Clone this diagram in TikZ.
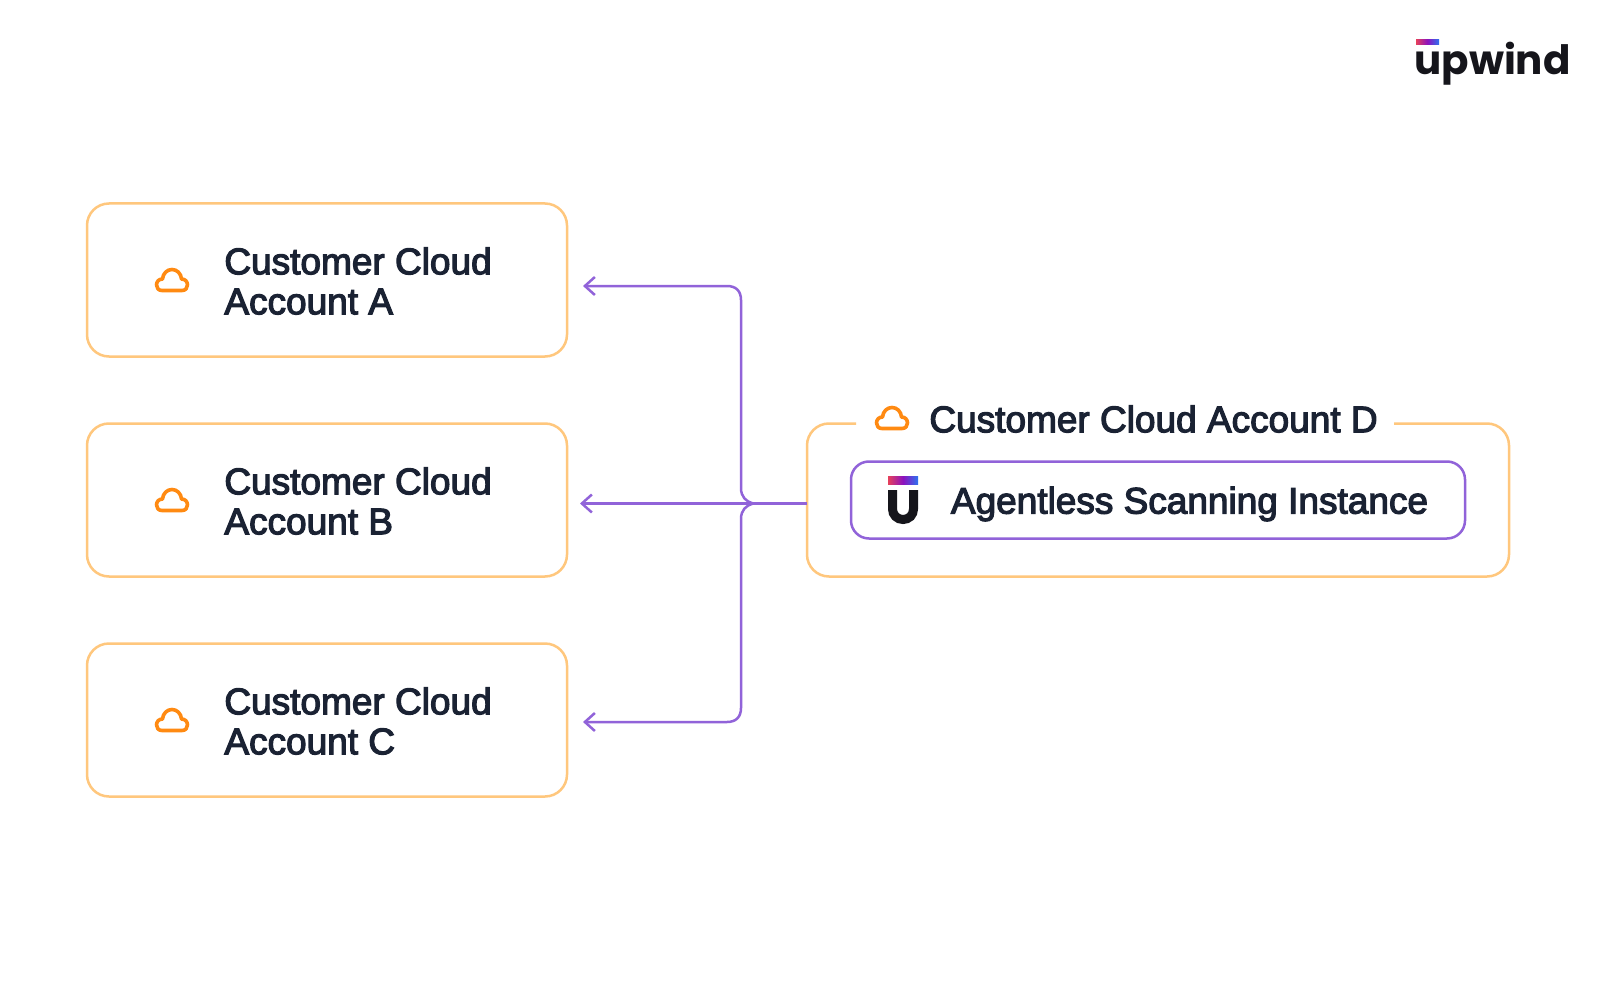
\documentclass[tikz,border=0pt]{standalone}
\usepackage{fontspec}
\usetikzlibrary{arrows.meta,calc}
\setmainfont[FakeBold=3.2]{Liberation Sans}
\newfontfamily\logofont{Poppins}
\definecolor{boxorange}{HTML}{FFC77D}
\definecolor{iconorange}{HTML}{FF8A12}
\definecolor{linkpurple}{HTML}{9163D9}
\definecolor{ink}{HTML}{1A2233}
\definecolor{logoink}{HTML}{15151B}
\definecolor{gradred}{HTML}{E6405A}
\definecolor{gradmid}{HTML}{8C12BE}
\definecolor{gradblue}{HTML}{2E72F0}
\tikzset{
  x=0.5pt,y=-0.5pt,
  acctbox/.style={draw=boxorange,line width=1.25pt,rounded corners=11pt,minimum width=240pt,minimum height=76.5pt,inner sep=0pt},
  acctlabel/.style={anchor=west,inner sep=0pt,align=left,text=ink,font=\fontsize{18.5}{20}\selectfont},
  onelabel/.style={anchor=west,inner sep=0pt,text=ink,font=\fontsize{18.5}{20}\selectfont},
  link/.style={draw=linkpurple,line width=1.25pt},
  tipped/.style={link,-{Straight Barb[length=5pt,width=9pt,line width=1.25pt]}},
  cloudicon/.pic={
    \draw[iconorange,line width=1.8pt,line join=round]
      (-10,10.5) -- (10,10.5)
      .. controls (13.5,10.5) and (15.5,8) .. (15.5,5)
      .. controls (15.5,1.5) and (13,-1) .. (9.5,-1)
      .. controls (9,-6.5) and (5,-10.5) .. (0,-10.5)
      .. controls (-5,-10.5) and (-9,-6.5) .. (-9.5,-1)
      .. controls (-13,-1) and (-15.5,1.5) .. (-15.5,5)
      .. controls (-15.5,8) and (-13.5,10.5) .. (-10,10.5) -- cycle;
  }
}
\begin{document}
\begin{tikzpicture}
\useasboundingbox[fill=white] (0,0) rectangle (1600,1000);

% account boxes
\node[acctbox] (boxA) at (327,280) {};
\node[acctbox] (boxB) at (327,500) {};
\node[acctbox] (boxC) at (327,720) {};
\pic at (172,280) {cloudicon};
\pic at (172,500) {cloudicon};
\pic at (172,720) {cloudicon};
\node[acctlabel] (textA) at (224,281) {Customer Cloud\\Account A};
\node[acctlabel] (textB) at (224,501) {Customer Cloud\\Account B};
\node[acctlabel] (textC) at (224,721) {Customer Cloud\\Account C};

% account D: open border with gap for the title
\coordinate (dL) at (856,423.5);
\coordinate (dR) at (1394,423.5);
\draw[draw=boxorange,line width=1.25pt,rounded corners=11pt]
  (dL) -- (807,423.5) -- (807,576.5) -- (1509,576.5) -- (1509,423.5) -- (dR);
\pic at (892,418) {cloudicon};
\node[onelabel] (textD) at (929,419) {Customer Cloud Account D};

% scanner
\node[draw=linkpurple,line width=1.25pt,rounded corners=9pt,minimum width=307pt,minimum height=38.5pt,inner sep=0pt] (scanner) at (1158,500) {};
\shade[left color=gradred,right color=gradblue,middle color=gradmid] (888,476) rectangle (918,484);
\draw[logoink,line width=4.5pt] (892.5,490) -- (892.5,509) .. controls (892.5,515) and (897,519.5) .. (903,519.5) .. controls (909,519.5) and (913.5,515) .. (913.5,509) -- (913.5,490);
\node[onelabel] (textS) at (950.5,504) {Agentless Scanning Instance};

% connectors
\coordinate (src) at (807,503.5);
\coordinate (join) at (753,503.5);
\coordinate (tipA) at (583,286);
\coordinate (tipB) at (580,503.5);
\coordinate (tipC) at (583,722);
\draw[tipped] (src) -- (tipB);
\draw[tipped] (join) .. controls (746,501.5) and (741,497) .. (741,488) -- (741,300)
  .. controls (741,291) and (736,286) .. (727,286) -- (tipA);
\draw[tipped] (join) .. controls (746,505.5) and (741,510) .. (741,519) -- (741,708)
  .. controls (741,717) and (736,722) .. (727,722) -- (tipC);

% logo
\shade[left color=gradred,right color=gradblue,middle color=gradmid] (1416,40) rectangle (1439,45);
\node[inner sep=0pt,anchor=base west,text=logoink,font=\logofont\bfseries\fontsize{20.2}{24}\selectfont] (logo) at (1414,75) {upwind};
\end{tikzpicture}
\end{document}
